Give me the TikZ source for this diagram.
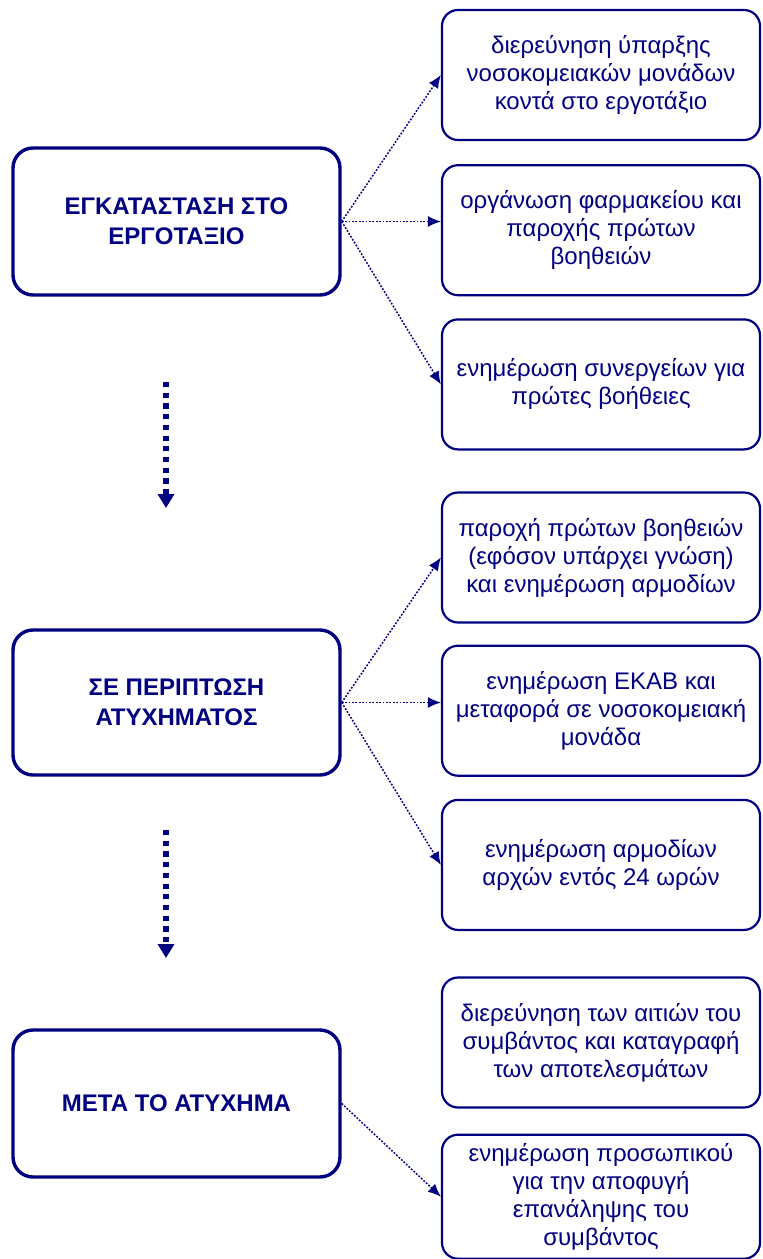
\documentclass[tikz,border=0pt]{standalone}
\usepackage{fontspec}
\setmainfont{Liberation Sans}
\usepackage{tikz}
\usetikzlibrary{positioning, arrows.meta}
\definecolor{navy}{RGB}{0, 0, 128}
\tikzstyle{phase} = [rectangle, rounded corners=10pt, minimum width=163.5pt, minimum height=73.5pt, align=center, draw=navy, line width=1.7pt, text=navy, font=\bfseries\fontsize{12}{15}\selectfont]
\tikzstyle{action} = [rectangle, rounded corners=8pt, minimum width=159pt, minimum height=65pt, align=center, draw=navy, line width=1.1pt, text=navy, font=\fontsize{12}{14}\selectfont]
\tikzstyle{link} = [navy, line width=0.75pt, dash pattern=on 0.9pt off 0.8pt, -{Latex[length=6.5pt,width=5.5pt]}]
\tikzstyle{flow} = [navy, line width=2.6pt, dash pattern=on 2.6pt off 2.75pt, -{Triangle[length=7pt,width=8pt]}]

\begin{document}
\begin{tikzpicture}[x=0.5pt, y=-0.5pt]
\useasboundingbox (0,0) rectangle (762,1259);

% setting up the site
\node[phase] (setup) at (176.5,221.5) {ΕΓΚΑΤΑΣΤΑΣΗ ΣΤΟ\\ΕΡΓΟΤΑΞΙΟ};
\node[action] (hospitals) at (601,75) {διερεύνηση ύπαρξης\\νοσοκομειακών μονάδων\\κοντά στο εργοτάξιο};
\node[action, below=11.5pt of hospitals] (pharmacy) {οργάνωση φαρμακείου και\\παροχής πρώτων\\βοηθειών};
\node[action, below=11pt of pharmacy] (crews) {ενημέρωση συνεργείων για\\πρώτες βοήθειες};

% in case of an accident
\node[phase, minimum height=72.5pt] (accident) at (176.5,702.5) {ΣΕ ΠΕΡΙΠΤΩΣΗ\\ΑΤΥΧΗΜΑΤΟΣ};
\node[action] (firstaid) at (601,557.5) {παροχή πρώτων βοηθειών\\(εφόσον υπάρχει γνώση)\\και ενημέρωση αρμοδίων};
\node[action, below=10.5pt of firstaid] (ekab) {ενημέρωση ΕΚΑΒ και\\μεταφορά σε νοσοκομειακή\\μονάδα};
\node[action, below=11pt of ekab] (authorities) {ενημέρωση αρμοδίων\\αρχών εντός 24 ωρών};

% after the accident
\node[phase] (after) at (176.5,1103.5) {ΜΕΤΑ ΤΟ ΑΤΥΧΗΜΑ};
\node[action] (causes) at (601,1042.5) {διερεύνηση των αιτιών του\\συμβάντος και καταγραφή\\των αποτελεσμάτων};
\node[action, below=12.5pt of causes, minimum height=62pt, inner ysep=2pt] (staff) {ενημέρωση προσωπικού\\για την αποφυγή\\επανάληψης του\\συμβάντος};

\coordinate (down1) at (166,382);
\coordinate (end1) at (166,508);
\coordinate (down2) at (166,830);
\coordinate (end2) at (166,958);

\draw[flow] (down1) -- (end1);
\draw[flow] (down2) -- (end2);

\draw[link] (setup.east) -- (hospitals.west);
\draw[link] (setup.east) -- (setup.east -| pharmacy.west);
\draw[link] (setup.east) -- (crews.west);
\draw[link] (accident.east) -- (firstaid.west);
\draw[link] (accident.east) -- (accident.east -| ekab.west);
\draw[link] (accident.east) -- (authorities.west);
\draw[link] (after.east) -- (staff.west);

\end{tikzpicture}
\end{document}
